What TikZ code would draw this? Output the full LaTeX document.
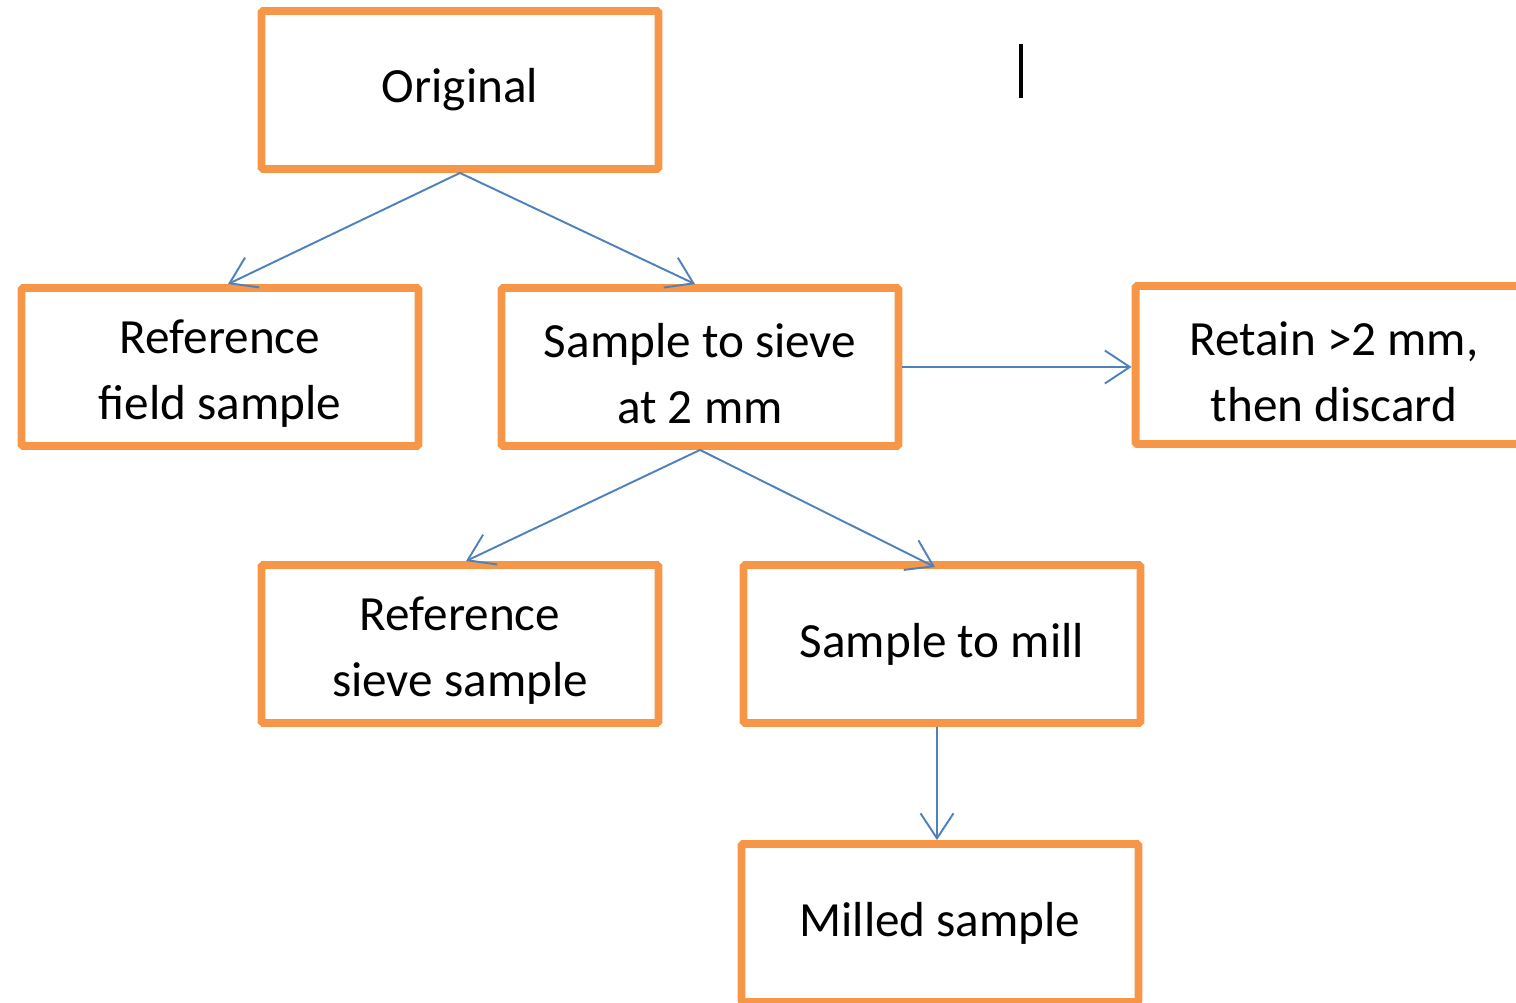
\documentclass[tikz,border=0pt]{standalone}
\usepackage{fontspec}
\setmainfont{Carlito}
\usetikzlibrary{arrows.meta}
\definecolor{boxorange}{RGB}{247,150,70}
\definecolor{linkblue}{RGB}{79,129,189}
\newcommand{\firstup}{\rule{0pt}{0.95cm}}
\tikzset{box/.style = {draw=boxorange, line width=4.5pt, rounded corners=1pt, minimum width=7.94cm, minimum height=3.16cm, inner sep=0, align=center, font=\fontsize{28}{37.5}\selectfont}}
\tikzset{link/.style = {draw=linkblue, line width=1.1pt, -{Straight Barb[length=0.5cm, width=0.66cm, line width=1.1pt]}}}

\begin{document}
\begin{tikzpicture}[x=0.02cm, y=-0.02cm]
\useasboundingbox (0,0) rectangle (1516,1002);
\clip (0,0) rectangle (1516,1002);
\node[box] (orig) at (460,90) {Original};
\node[box] (fieldref) at (220,367) {\firstup Reference\\field sample};
\node[box] (sieve) at (700,367) {\firstup Sample to sieve\\at 2 mm};
\node[box] (retain) at (1334,365) {\firstup Retain >2 mm,\\then discard};
\node[box] (sieveref) at (460,644) {\firstup Reference\\sieve sample};
\node[box] (mill) at (942,644) {Sample to mill};
\node[box] (milled) at (940,923) {Milled sample};
\draw[link] (orig.south) -- ([xshift=0.16cm]fieldref.north);
\draw[link] (orig.south) -- ([xshift=-0.1cm]sieve.north);
\draw[link] (sieve.east) -- (sieve.east -| retain.west);
\draw[link] (sieve.south) -- ([xshift=0.12cm]sieveref.north);
\draw[link] (sieve.south) -- ([xshift=-0.14cm, yshift=-0.12cm]mill.north);
\draw[link] ([xshift=-0.1cm]mill.south) -- ([xshift=-0.1cm]mill.south |- milled.north);
\draw[line width=0.08cm] (1021,44) -- (1021,98);
\end{tikzpicture}
\end{document}
